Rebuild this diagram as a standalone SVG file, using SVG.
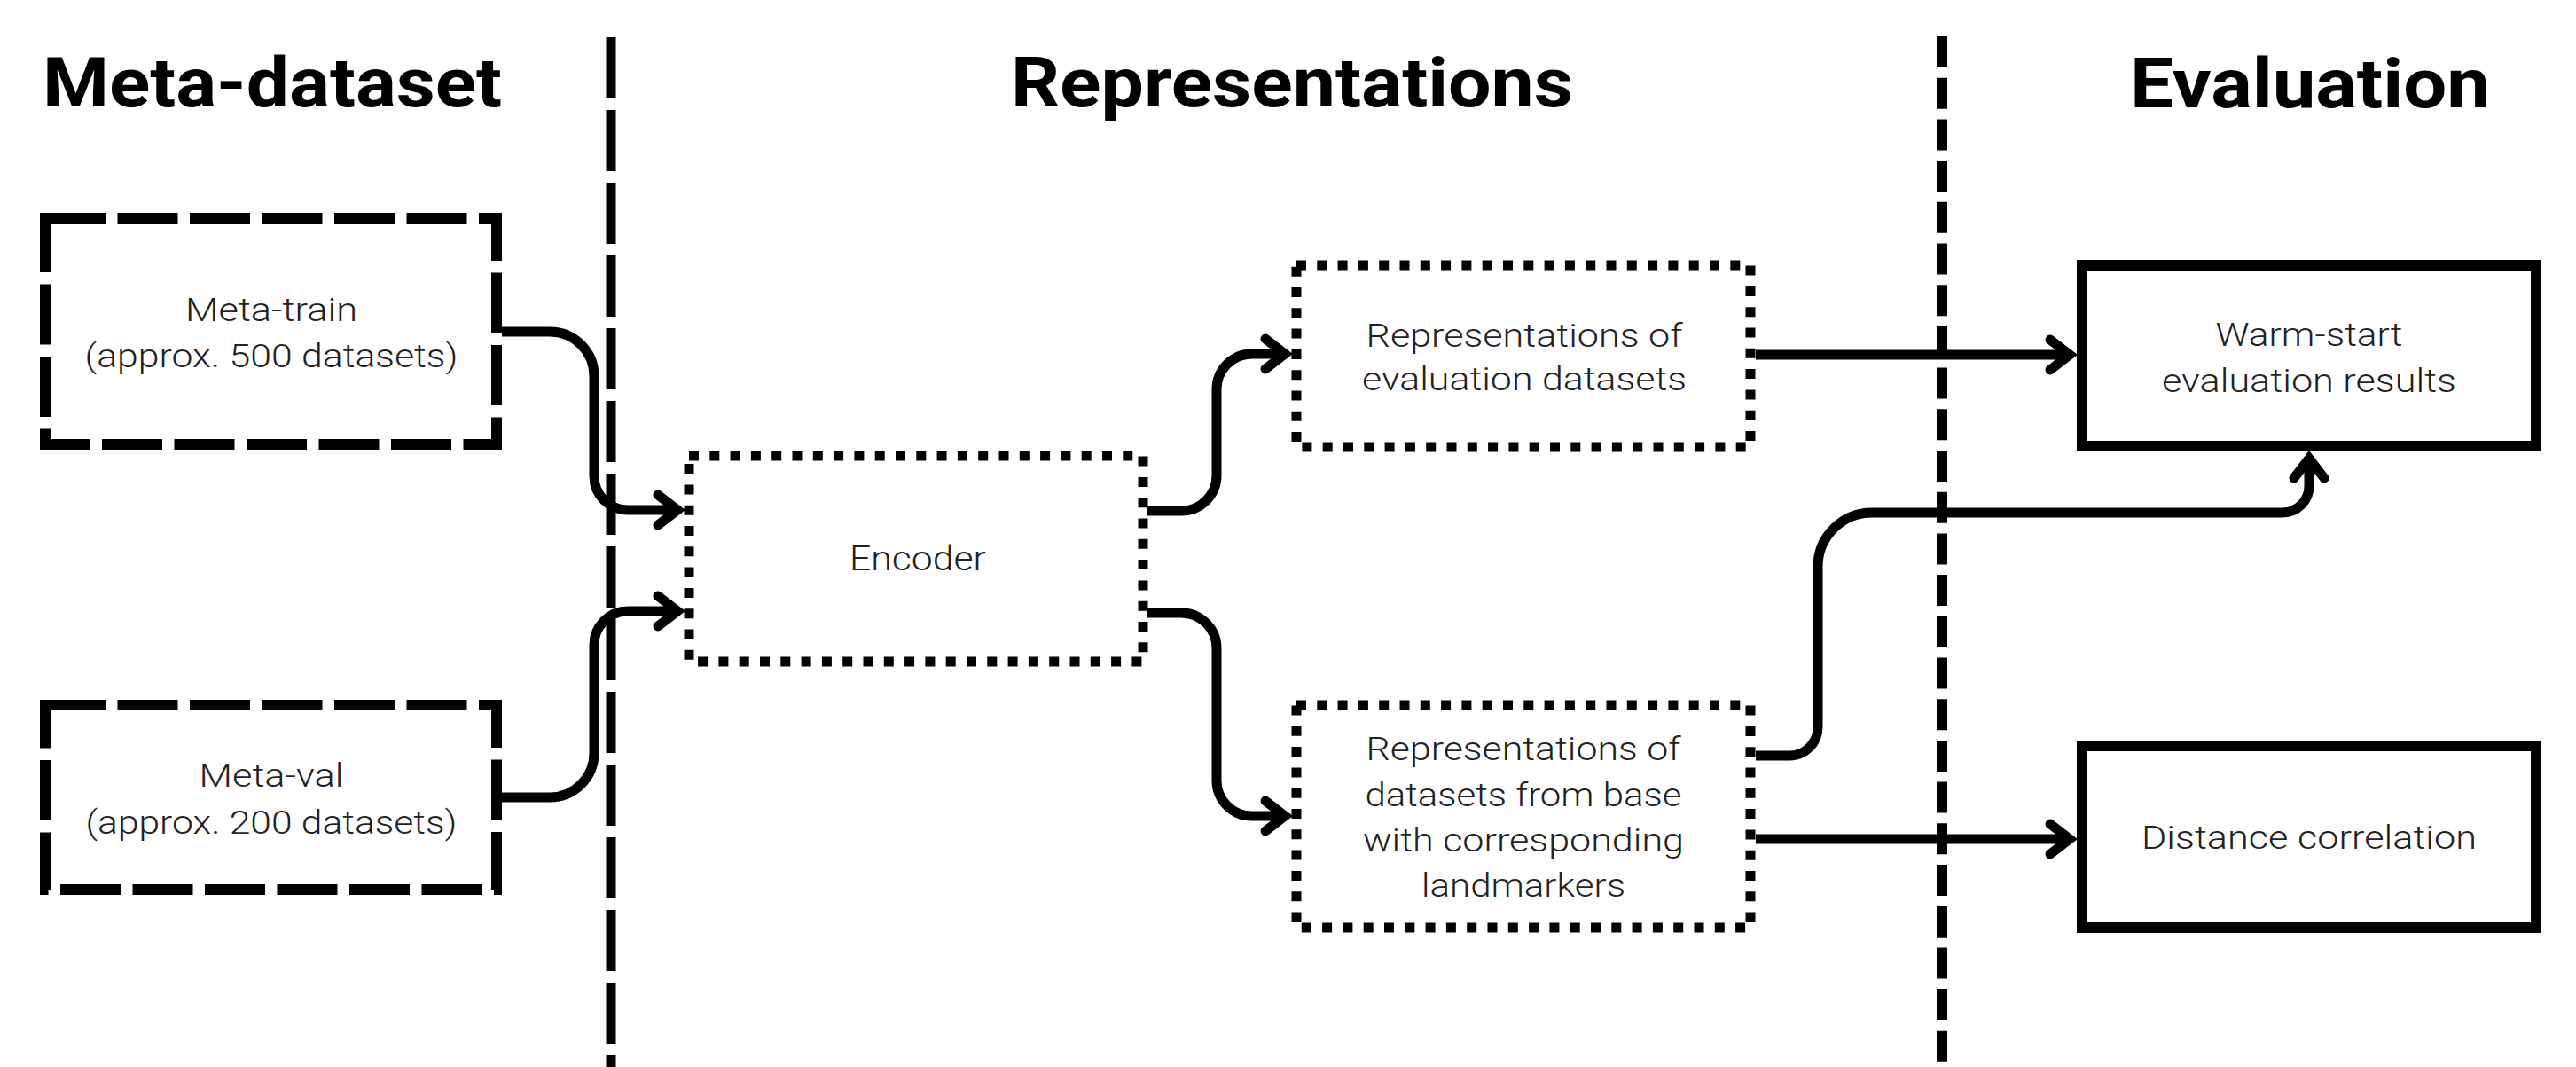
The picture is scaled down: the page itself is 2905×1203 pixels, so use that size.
<svg xmlns="http://www.w3.org/2000/svg" width="2905" height="1203" viewBox="0 0 2905 1203">
  <style>
    .title { font-family: Roboto, "Liberation Sans", sans-serif; font-weight: 700; font-size: 78px; fill: #000; }
    .label { font-family: Roboto, "Liberation Sans", sans-serif; font-weight: 300; font-size: 36px; fill: #222; text-anchor: middle; }
    .divider-long { stroke: #000; stroke-width: 11; stroke-dasharray: 69 13; fill: none; }
    .divider-short { stroke: #000; stroke-width: 12; stroke-dasharray: 35 11.7; fill: none; }
    .dashed { stroke: #000; stroke-width: 12; stroke-dasharray: 68 13.5; fill: none; }
    .dotted { stroke: #000; stroke-width: 11; stroke-dasharray: 11 12.3; fill: none; }
    .solid { stroke: #000; stroke-width: 12; fill: none; }
    .link { stroke: #000; stroke-width: 11; fill: none; marker-end: url(#chevron); }
  </style>
  <defs>
    <marker id="chevron" markerUnits="userSpaceOnUse" markerWidth="80" markerHeight="80" refX="0" refY="0" orient="auto" overflow="visible">
      <path d="M-22,-17 L0,0 L-22,17" fill="none" stroke="#000" stroke-width="11" stroke-linecap="round" stroke-linejoin="miter"/>
    </marker>
  </defs>

  <rect width="2905" height="1203" fill="#fff"/>

  <!-- column headings -->
  <g id="headings">
    <text class="title" x="48" y="120" textLength="518" lengthAdjust="spacingAndGlyphs">Meta-dataset</text>
    <text class="title" x="1140" y="120" textLength="634" lengthAdjust="spacingAndGlyphs">Representations</text>
    <text class="title" x="2402" y="121" textLength="406" lengthAdjust="spacingAndGlyphs">Evaluation</text>
  </g>

  <!-- column separators -->
  <g id="dividers">
    <line class="divider-long" x1="689" y1="42" x2="689" y2="1203"/>
    <line class="divider-short" x1="2190" y1="41" x2="2190" y2="1203"/>
  </g>

  <!-- connectors -->
  <g id="connectors">
    <path class="link" d="M566,374 H620 A50,50 0 0 1 670,424 V537 A38,38 0 0 0 708,575 H764"/>
    <path class="link" d="M566,899 H620 A50,50 0 0 0 670,849 V727 A38,38 0 0 1 708,689 H764"/>
    <path class="link" d="M1294,576 H1332 A40,40 0 0 0 1372,536 V439 A40,40 0 0 1 1412,399 H1449"/>
    <path class="link" d="M1294,691 H1332 A40,40 0 0 1 1372,731 V880 A40,40 0 0 0 1412,920 H1449"/>
    <path class="link" d="M1980,400 H2334"/>
    <path class="link" d="M1980,852 H2018 A32,32 0 0 0 2050,820 V639 A61,61 0 0 1 2111,578 H2574 A30,30 0 0 0 2604,548 V517"/>
    <path class="link" d="M1980,946 H2334"/>
  </g>

  <g id="meta-train">
    <rect class="dashed" x="51" y="246" width="509" height="255"/>
    <text class="label" x="306" y="362" textLength="194" lengthAdjust="spacingAndGlyphs">Meta-train</text>
    <text class="label" x="306" y="414" textLength="421" lengthAdjust="spacingAndGlyphs">(approx. 500 datasets)</text>
  </g>

  <g id="meta-val">
    <rect class="dashed" x="51" y="795" width="509" height="208"/>
    <text class="label" x="306" y="887" textLength="163" lengthAdjust="spacingAndGlyphs">Meta-val</text>
    <text class="label" x="306" y="940" textLength="419" lengthAdjust="spacingAndGlyphs">(approx. 200 datasets)</text>
  </g>

  <g id="encoder">
    <rect class="dotted" x="777" y="514" width="512" height="232"/>
    <text class="label" x="1035" y="643" style="font-size:39px" textLength="154" lengthAdjust="spacingAndGlyphs">Encoder</text>
  </g>

  <g id="eval-representations">
    <rect class="dotted" x="1462" y="299" width="512" height="205"/>
    <text class="label" x="1719" y="391" textLength="357" lengthAdjust="spacingAndGlyphs">Representations of</text>
    <text class="label" x="1719" y="440" textLength="366" lengthAdjust="spacingAndGlyphs">evaluation datasets</text>
  </g>

  <g id="base-representations">
    <rect class="dotted" x="1462" y="795" width="512" height="251"/>
    <text class="label" x="1718" y="857" textLength="355" lengthAdjust="spacingAndGlyphs">Representations of</text>
    <text class="label" x="1718" y="909" textLength="357" lengthAdjust="spacingAndGlyphs">datasets from base</text>
    <text class="label" x="1718" y="960" textLength="362" lengthAdjust="spacingAndGlyphs">with corresponding</text>
    <text class="label" x="1718" y="1011" textLength="230" lengthAdjust="spacingAndGlyphs">landmarkers</text>
  </g>

  <g id="warm-start">
    <rect class="solid" x="2348" y="299" width="512" height="204"/>
    <text class="label" x="2604" y="390" textLength="211" lengthAdjust="spacingAndGlyphs">Warm-start</text>
    <text class="label" x="2604" y="442" textLength="332" lengthAdjust="spacingAndGlyphs">evaluation results</text>
  </g>

  <g id="distance-correlation">
    <rect class="solid" x="2348" y="841" width="512" height="205"/>
    <text class="label" x="2604" y="957" textLength="378" lengthAdjust="spacingAndGlyphs">Distance correlation</text>
  </g>
</svg>
